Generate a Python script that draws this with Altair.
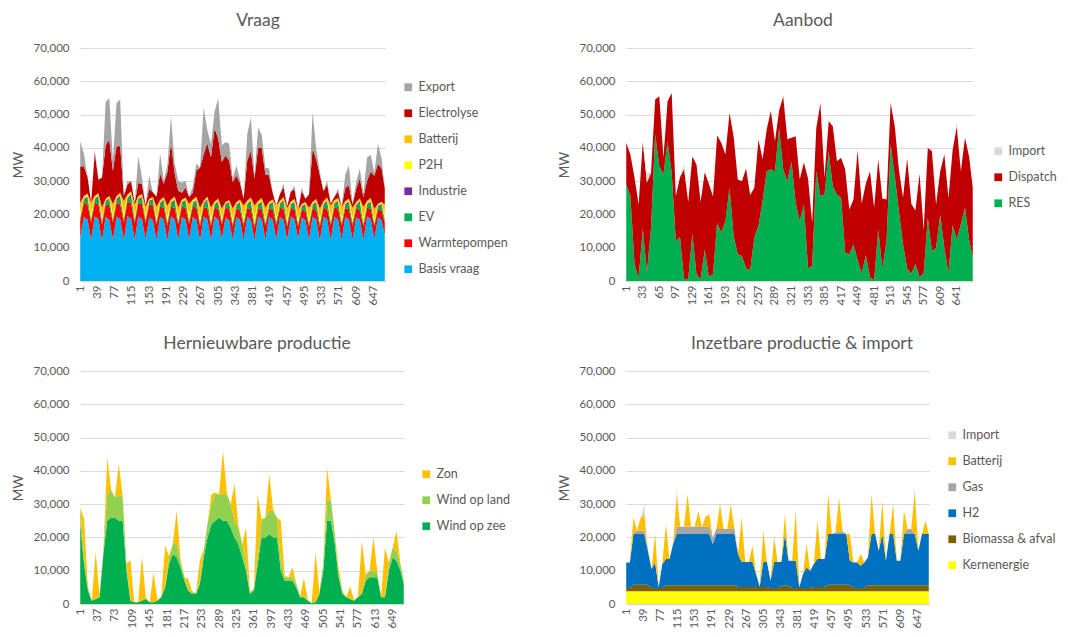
import altair as alt
import pandas as pd

# sample hours (every 8 h: night / midday / evening of each of 28 days, plus last hour)
HOURS = list(range(1, 673, 8)) + [672]

# tick labels of the category axes
TICKS_VRAAG = list(range(1, 673, 38))
TICKS_AANBOD = list(range(1, 673, 32))
TICKS_HERN = list(range(1, 673, 36))
TICKS_INZET = list(range(1, 673, 38))
Y_TICKS = [0, 10000, 20000, 30000, 40000, 50000, 60000, 70000]

# ---------------- Vraag (values in 1000 MW) ----------------
BASIS = [13.0, 19.3, 18.5, 12.4, 19.4, 18.6, 12.2, 19.2, 18.4, 12.5, 19.3, 18.6, 12.3, 19.5, 18.7, 12.4, 19.4, 18.6, 12.6, 19.1, 18.3,
         12.3, 19.3, 18.5, 12.2, 19.4, 18.6, 12.4, 19.3, 18.5, 12.5, 19.2, 18.4, 12.2, 19.4, 18.6, 12.3, 19.3, 18.5, 12.6, 19.0, 18.3,
         12.4, 19.2, 18.4, 12.3, 19.3, 18.5, 12.2, 19.4, 18.6, 12.4, 19.3, 18.5, 12.5, 19.3, 18.5, 12.3, 19.4, 18.6, 12.6, 19.1, 18.3,
         12.4, 19.3, 18.5, 12.2, 19.4, 18.6, 12.3, 19.3, 18.5, 12.4, 19.3, 18.5, 12.5, 19.2, 18.4, 12.3, 19.4, 18.6, 12.6, 19.1, 18.3,
         13.5]
WARMTEPOMPEN = [5.0, 4.2, 4.6, 5.2, 4.0, 4.5, 4.8, 3.8, 4.4, 5.1, 4.1, 4.6, 5.3, 4.3, 4.8, 5.0, 4.0, 4.5, 4.9, 3.9, 4.4,
                4.6, 3.0, 3.6, 4.4, 2.9, 3.4, 4.5, 3.1, 3.5, 4.7, 3.2, 3.7, 4.3, 2.8, 3.3, 4.2, 2.7, 3.2, 4.5, 3.0, 3.5,
                4.0, 2.5, 3.0, 4.2, 2.6, 3.1, 3.9, 2.4, 2.9, 4.1, 2.5, 3.0, 4.3, 2.7, 3.2, 4.0, 2.5, 3.0, 3.8, 2.3, 2.8,
                4.0, 2.5, 3.0, 4.1, 2.6, 3.1, 4.4, 2.8, 3.3, 4.2, 2.6, 3.1, 4.0, 2.5, 3.0, 4.1, 2.6, 3.1, 3.9, 2.4, 2.9,
                4.0]
EV = [0.5, 0.8, 1.8, 0.6, 0.9, 2.0, 0.5, 0.7, 1.6, 0.5, 0.8, 1.9, 0.6, 0.8, 2.1, 0.5, 0.9, 1.7, 0.4, 0.7, 1.5,
      0.5, 0.8, 1.8, 0.6, 0.8, 2.0, 0.5, 0.9, 1.9, 0.5, 0.8, 1.7, 0.6, 0.8, 2.2, 0.5, 0.7, 1.8, 0.4, 0.7, 1.5,
      0.5, 0.8, 1.8, 0.6, 0.9, 2.0, 0.5, 0.8, 1.9, 0.5, 0.8, 1.7, 0.6, 0.9, 2.1, 0.5, 0.8, 1.8, 0.4, 0.7, 1.6,
      0.5, 0.8, 1.8, 0.6, 0.8, 2.0, 0.5, 0.9, 1.9, 0.5, 0.8, 1.7, 0.6, 0.8, 2.1, 0.5, 0.8, 1.8, 0.4, 0.7, 1.6,
      0.5]
INDUSTRIE = [0.4, 0.4, 0.5, 0.4, 0.4, 0.5, 0.4, 0.4, 0.4, 0.4, 0.5, 0.5, 0.4, 0.4, 0.5, 0.4, 0.4, 0.4, 0.4, 0.4, 0.4,
             0.4, 0.4, 0.5, 0.4, 0.5, 0.5, 0.4, 0.4, 0.4, 0.4, 0.4, 0.5, 0.4, 0.4, 0.5, 0.4, 0.4, 0.4, 0.4, 0.4, 0.4,
             0.4, 0.4, 0.5, 0.4, 0.4, 0.5, 0.4, 0.5, 0.4, 0.4, 0.4, 0.5, 0.4, 0.4, 0.5, 0.4, 0.4, 0.4, 0.4, 0.4, 0.4,
             0.4, 0.4, 0.5, 0.4, 0.4, 0.5, 0.4, 0.4, 0.4, 0.4, 0.5, 0.5, 0.4, 0.4, 0.5, 0.4, 0.4, 0.4, 0.4, 0.4, 0.4,
             0.4]
P2H = [1.5, 0.3, 0.6, 1.8, 0.3, 0.5, 1.4, 0.2, 0.5, 1.6, 0.3, 0.6, 2.0, 0.4, 0.5, 1.5, 0.3, 0.6, 1.3, 0.2, 0.4,
       1.5, 0.3, 0.5, 1.7, 0.3, 0.6, 1.4, 0.3, 0.5, 1.9, 0.4, 0.6, 1.5, 0.3, 0.5, 1.6, 0.3, 0.6, 1.3, 0.2, 0.4,
       1.5, 0.3, 0.5, 1.8, 0.4, 0.6, 2.2, 0.4, 0.7, 1.6, 0.3, 0.5, 1.5, 0.3, 0.6, 1.7, 0.3, 0.5, 1.4, 0.2, 0.4,
       1.6, 0.3, 0.5, 1.5, 0.3, 0.6, 1.8, 0.3, 0.5, 1.6, 0.3, 0.6, 1.5, 0.3, 0.5, 1.7, 0.4, 0.6, 1.4, 0.2, 0.4,
       1.5]
BATTERIJ_VRAAG = [3.0, 0.5, 0.3, 3.2, 0.6, 0.3, 2.8, 0.4, 0.2, 3.0, 0.5, 0.3, 3.4, 0.6, 0.4, 3.1, 0.5, 0.3, 2.7, 0.4, 0.2,
                  3.0, 0.5, 0.3, 3.3, 0.6, 0.3, 2.9, 0.5, 0.3, 3.2, 0.5, 0.4, 3.0, 0.4, 0.3, 3.1, 0.5, 0.3, 2.6, 0.4, 0.2,
                  3.0, 0.5, 0.3, 3.4, 0.6, 0.4, 3.5, 0.6, 0.4, 3.0, 0.5, 0.3, 3.2, 0.5, 0.3, 3.0, 0.5, 0.3, 2.8, 0.4, 0.2,
                  3.1, 0.5, 0.3, 3.0, 0.5, 0.3, 3.3, 0.6, 0.3, 3.1, 0.5, 0.3, 3.0, 0.5, 0.3, 3.2, 0.5, 0.4, 2.9, 0.4, 0.2,
                  3.0]
ELECTROLYSE = [11.0, 9.0, 5.0, 0.0, 13.0, 4.0, 9.0, 16.0, 17.0, 10.0, 15.0, 14.0, 1.5, 3.0, 3.0, 0.5, 4.0, 3.0, 0.5, 3.0, 1.5,
               3.0, 8.0, 4.0, 10.0, 17.0, 7.0, 5.0, 2.0, 3.0, 2.0, 2.0, 8.0, 12.0, 14.0, 16.0, 15.0, 22.0, 18.0, 14.0, 14.0, 12.0,
               8.0, 8.0, 5.0, 2.0, 12.0, 14.0, 8.0, 16.0, 15.0, 10.0, 8.0, 2.0, 0.0, 2.0, 3.0, 0.5, 3.0, 3.0, 0.0, 4.0, 1.0,
               4.0, 16.0, 12.0, 10.0, 3.0, 4.0, 0.5, 1.0, 2.0, 0.0, 4.0, 4.0, 1.0, 4.0, 6.0, 3.0, 6.0, 8.0, 10.0, 12.0, 10.0,
               5.0]
EXPORT = [7.6, 3.7, 0.0, 0.0, 1.0, 0.0, 0.0, 13.0, 12.5, 3.0, 13.0, 14.0, 0.0, 1.0, 0.0, 0.0, 8.0, 2.0, 0.0, 4.0, 0.0,
          0.0, 6.0, 1.0, 2.0, 8.0, 3.0, 3.0, 3.0, 2.0, 0.0, 2.0, 2.0, 0.0, 14.0, 4.0, 4.0, 5.0, 12.0, 5.0, 4.0, 5.0,
          1.0, 3.0, 1.0, 0.0, 8.0, 10.0, 1.0, 6.0, 4.0, 2.0, 2.0, 0.0, 0.0, 0.0, 1.0, 0.0, 0.0, 1.0, 0.0, 1.0, 0.0,
          0.0, 11.0, 3.0, 1.0, 0.0, 1.0, 0.0, 0.0, 1.0, 0.0, 4.0, 6.0, 0.0, 2.0, 3.0, 1.0, 7.0, 5.0, 1.0, 6.0, 3.0,
          0.0]

# ---------------- Hernieuwbare productie ----------------
WIND_OP_ZEE = [24, 12, 4, 1, 1.5, 2, 15, 25, 26, 26, 25, 25, 10, 1, 0.5, 0.5, 1, 1.5, 0.5, 0.5, 1,
               2, 5, 12, 15, 14, 11, 7, 4, 3, 3, 6, 14, 20, 24, 25, 26, 25, 25, 23, 20, 18,
               14, 10, 3, 4, 12, 20, 20, 21, 20, 20, 10, 7, 7, 7, 5, 2, 2, 1, 0.2, 0.5, 3,
               10, 25, 25, 18, 8, 3, 2, 1.5, 1, 2, 3, 7, 8, 8, 8, 2, 2, 10, 14, 13, 10,
               6]
WIND_OP_LAND = [5, 1.5, 0.5, 0, 0.2, 0.3, 1, 8, 8, 6, 8, 7, 2, 0.2, 0, 0, 0.2, 0.2, 0, 0, 0,
                0.2, 0.5, 2, 3, 4, 2, 1, 0.5, 0.5, 0.3, 1, 2, 4, 6, 8, 7, 8, 8, 7, 5, 5,
                4, 2, 0.5, 0.5, 2, 5, 6, 7, 8, 6, 3, 1, 1, 1, 1, 0.3, 0.3, 0, 0, 0, 0.5,
                2, 6, 6, 3, 1, 0.5, 0.2, 0.2, 0, 0.3, 0.5, 1.5, 2, 2, 1.5, 0.3, 0.3, 2, 3, 3, 2,
                1]
ZON = [0, 12, 0.5, 0, 14, 0.3, 0, 11, 0.5, 0, 9, 0.5, 0, 12, 0.2, 0, 13, 0.3, 0, 9, 0.2,
       0, 12, 0.5, 0, 10, 0.5, 0, 3, 0.3, 0, 6, 0.5, 0, 3, 0.5, 0, 13, 0.5, 0, 11, 0.5,
       0, 11, 0.3, 0, 19, 0.5, 0, 11, 0.5, 0, 12, 0.5, 0, 3, 0.3, 0, 5.5, 0.2, 0, 15, 0.3,
       0, 10, 0.5, 0, 2, 0.3, 0, 3.5, 0.2, 0, 15.5, 0.5, 0, 10, 0.5, 0, 14.5, 0.5, 0, 6, 0.3,
       0]

# ---------------- Inzetbare productie & import ----------------
KERNENERGIE = [3.8, 3.8, 3.8, 3.8, 3.8, 3.8, 3.8, 3.8, 3.8, 3.8, 3.8, 3.8, 3.8, 3.8, 3.8, 3.8, 3.8, 3.8, 3.8, 3.8, 3.8,
               3.8, 3.8, 3.8, 3.8, 3.8, 3.8, 3.8, 3.8, 3.8, 3.8, 3.8, 3.8, 3.8, 3.8, 3.8, 3.8, 3.8, 3.8, 3.8, 3.8, 3.8,
               3.8, 3.8, 3.8, 3.8, 3.8, 3.8, 3.8, 3.8, 3.8, 3.8, 3.8, 3.8, 3.8, 3.8, 3.8, 3.8, 3.8, 3.8, 3.8, 3.8, 3.8,
               3.8, 3.8, 3.8, 3.8, 3.8, 3.8, 3.8, 3.8, 3.8, 3.8, 3.8, 3.8, 3.8, 3.8, 3.8, 3.8, 3.8, 3.8, 3.8, 3.8, 3.8,
               3.8]
BIOMASSA = [1.0, 1.0, 2.0, 2.0, 2.0, 2.0, 2.0, 1.0, 1.0, 1.0, 1.0, 1.8, 1.8, 1.8, 1.8, 1.8, 1.8, 1.8, 1.8, 1.8, 1.8,
            1.8, 1.8, 1.8, 1.8, 1.8, 1.8, 1.8, 1.8, 1.8, 1.8, 1.3, 1.3, 1.3, 1.3, 1.3, 1.3, 1.3, 1.3, 1.3, 1.0, 1.0,
            1.0, 1.7, 1.7, 1.7, 1.0, 1.0, 1.0, 1.0, 1.0, 1.0, 1.3, 1.3, 1.3, 1.3, 2.0, 2.0, 2.0, 2.0, 2.0, 2.0, 2.0,
            1.0, 1.0, 1.0, 1.0, 1.8, 1.8, 1.8, 1.8, 1.8, 1.8, 1.8, 1.8, 1.8, 1.8, 1.8, 1.8, 1.8, 1.8, 1.8, 1.8, 1.8,
            1.8]
H2 = [7.7, 7.7, 15.2, 15.2, 15.2, 15.2, 10.2, 5.7, 7.7, 0.2, 7.2, 7.9, 7.9, 12.4, 15.4, 15.4, 15.4, 15.4, 15.4, 15.4, 15.4,
      15.4, 15.4, 15.4, 12.4, 15.4, 15.4, 15.4, 15.4, 15.4, 15.4, 9.9, 7.5, 7.5, 7.5, 7.5, 3.9, 0.1, 7.5, 7.5, 2.2, 7.8,
      7.8, 7.1, 15.5, 7.5, 8.2, 8.2, 0.2, 4.2, 6.2, 5.2, 6.9, 8.4, 8.4, 8.4, 15.2, 15.2, 15.2, 15.2, 15.2, 15.2, 7.2,
      7.7, 7.7, 6.7, 7.7, 8.4, 15.4, 15.4, 10.4, 15.4, 7.4, 15.4, 15.4, 7.4, 7.4, 15.4, 15.4, 15.4, 15.4, 10.4, 15.4, 15.4,
      15.4]
GAS = [0, 0, 0, 1.0, 1.0, 1.0, 0.5, 0, 0, 0, 0, 0, 0, 0, 2.2, 2.2, 2.2, 2.2, 2.2, 2.2, 2.2,
       2.2, 2.2, 2.2, 2.0, 1.5, 1.5, 1.5, 1.5, 1.5, 1.5, 0, 0, 0, 0, 0, 0, 0, 0, 0, 0, 0,
       0, 0, 0, 0, 0, 0, 0, 0, 0, 0, 0, 0, 0, 0, 0, 0, 0.5, 0.8, 0.8, 0, 0,
       0, 0, 0, 0, 0, 0, 0, 0, 0, 0, 0, 0, 0, 0, 0, 1.5, 1.5, 0, 0, 0, 0,
       0]
BATTERIJ_INZET = [0, 0, 5.0, 0, 4.0, 5.0, 0, 0, 8.5, 0, 0, 10.5, 0, 0, 9.8, 0, 0, 9.8, 0, 0, 4.8,
                  0, 3.0, 3.8, 0, 0, 7.5, 0, 0, 7.5, 0, 0, 13.4, 0, 0, 5.0, 0, 0, 9.4, 0, 0, 7.4,
                  0, 0, 6.0, 0, 0, 15.0, 0, 0, 7.0, 0, 0, 11.5, 0, 0, 12.0, 0, 0, 10.0, 0, 0, 8.0,
                  0, 0, 3.5, 0, 0, 12.0, 0, 0, 10.0, 0, 0, 9.0, 0, 0, 7.0, 0, 0, 13.0, 0, 0, 4.0,
                  0]
IMPORT = [0, 0, 0, 0, 0, 3.0, 0, 0, 0, 0, 0, 0, 0, 0, 1.5, 0, 0, 0, 0, 0, 0,
          0, 0, 0, 0, 0, 0.5, 0, 0, 0, 0, 0, 0, 0, 0, 0, 0, 0, 0.5, 0, 0, 0,
          0, 0, 0, 0, 0, 0.5, 0, 0, 0, 0, 0, 0, 0, 0, 0.5, 0, 0, 0, 0, 0, 0,
          0, 0, 0, 0, 0, 0, 0, 0, 0, 0, 0, 0.5, 0, 0, 0, 0, 0, 1.0, 0, 0, 0,
          0]

TEXT = "#595959"
GRID = "#D9D9D9"
FONT = "Lato"


def long_table(series):
    rows = []
    for i, (name, vals) in enumerate(series):
        for h, v in zip(HOURS, vals):
            rows.append({"uur": h, "reeks": name, "MW": v * 1000, "volgorde": i})
    return pd.DataFrame(rows)


def panel(series, colors, title, width, ticks, legend_x, legend_y, title_dx):
    df = long_table(series)
    names = [n for n, _ in series]
    dom = list(reversed(names))
    rng = list(reversed(colors))
    return alt.Chart(df, title=alt.Title(title, dx=title_dx)).mark_area().encode(
        x=alt.X("uur:Q", scale=alt.Scale(domain=[0.5, 672.5], nice=False, zero=False),
                axis=alt.Axis(values=ticks, title=None, labelAngle=-90, grid=False, ticks=False,
                              format="d", labelPadding=4, domainColor=GRID, domainWidth=1.5,
                              labelOverlap=False)),
        y=alt.Y("MW:Q", stack="zero", scale=alt.Scale(domain=[0, 70000], nice=False),
                axis=alt.Axis(values=Y_TICKS, format=",d", title="MW", domain=False, ticks=False,
                              gridColor=GRID, labelPadding=11, titlePadding=8)),
        color=alt.Color("reeks:N", scale=alt.Scale(domain=dom, range=rng),
                        legend=alt.Legend(orient="none", legendX=legend_x, legendY=legend_y, title=None,
                                          direction="vertical")),
        order=alt.Order("volgorde:Q", sort="ascending"),
    ).properties(width=width, height=233)


vraag = panel(
    [("Basis vraag", BASIS), ("Warmtepompen", WARMTEPOMPEN), ("EV", EV), ("Industrie", INDUSTRIE),
     ("P2H", P2H), ("Batterij", BATTERIJ_VRAAG), ("Electrolyse", ELECTROLYSE), ("Export", EXPORT)],
    ["#00B0F0", "#FF0000", "#00B050", "#7030A0", "#FFFF00", "#FFC000", "#C00000", "#A5A5A5"],
    "Vraag", 305, TICKS_VRAAG, 322, 33, 25.5)

RES = [a + b + c for a, b, c in zip(WIND_OP_ZEE, WIND_OP_LAND, ZON)]
DISPATCH = [a + b + c + d + e for a, b, c, d, e in zip(KERNENERGIE, BIOMASSA, H2, GAS, BATTERIJ_INZET)]
aanbod = panel(
    [("RES", RES), ("Dispatch", DISPATCH), ("Import", IMPORT)],
    ["#00B050", "#C00000", "#D9D9D9"],
    "Aanbod", 347, TICKS_AANBOD, 366, 97, 3.5)

hern = panel(
    [("Wind op zee", WIND_OP_ZEE), ("Wind op land", WIND_OP_LAND), ("Zon", ZON)],
    ["#00B050", "#92D050", "#FFC000"],
    "Hernieuwbare productie", 324, TICKS_HERN, 340, 97, 15)

inzet = panel(
    [("Kernenergie", KERNENERGIE), ("Biomassa & afval", BIOMASSA), ("H2", H2), ("Gas", GAS),
     ("Batterij", BATTERIJ_INZET), ("Import", IMPORT)],
    ["#FFFF00", "#7F6000", "#0070C0", "#A5A5A5", "#FFC000", "#D9D9D9"],
    "Inzetbare productie & import", 303, TICKS_INZET, 320, 58, 24.5)

chart = alt.concat(
    vraag, aanbod, hern, inzet, columns=2, spacing={"row": 90, "column": 222}, bounds="flush"
).resolve_scale(color="independent").resolve_legend(color="independent").properties(
    padding={"left": 3, "top": 3, "right": 0, "bottom": 0}, background="white"
).configure(font=FONT).configure_view(stroke=None).configure_axis(
    labelFont=FONT, labelFontSize=11.5, labelColor=TEXT, titleFont=FONT, titleFontSize=13.5,
    titleColor=TEXT, titleFontWeight="normal"
).configure_legend(
    labelFont=FONT, labelFontSize=12.5, labelColor=TEXT, symbolType="square", symbolSize=60,
    symbolStrokeWidth=0, rowPadding=13, labelOffset=4, padding=0
).configure_title(
    font=FONT, fontSize=17.5, color=TEXT, fontWeight="normal", anchor="middle", frame="group", offset=13
)

chart.save("out.html", embed_options={"renderer": "svg", "actions": False})
